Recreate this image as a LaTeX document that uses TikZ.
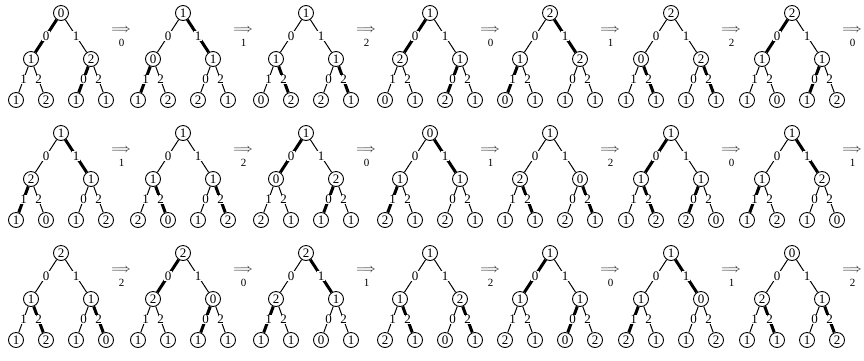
\documentclass[tikz,border=0pt]{standalone}
\usepackage{fontspec}
\setmainfont{Liberation Serif}
\usepackage{tikz}

\begin{document}
\begin{tikzpicture}[x=1pt,y=1pt,font=\fontsize{13}{15}\selectfont,
  sommet/.style={draw,circle,line width=0.9pt,minimum size=15pt,inner sep=0pt},
  etiq/.style={fill=white,inner sep=0.5pt},
  arete/.style 2 args={line width={1pt+2pt*(#1==#2)}},
  fleche/.style={inner sep=0pt},
  indice/.style={inner sep=0pt,font=\fontsize{11}{13}\selectfont}]
  \useasboundingbox (0,0) rectangle (864,-360);
  % arbres : n / x / y / racine / fils / feuilles / aretes grasses (9 = aucune) / indice
  \foreach \n/\x/\y/\r/\a/\b/\aa/\ab/\ba/\bb/\tr/\ta/\tb/\fl in {%
    1/61/-13/0/1/2/1/2/1/1/0/9/0/0,
    2/183/-13/1/0/1/1/2/2/1/1/1/9/1,
    3/306/-13/1/1/1/0/2/2/1/9/2/2/2,
    4/430/-13/1/2/1/0/1/2/1/0/9/0/0,
    5/550/-13/2/1/2/0/1/1/1/1/1/9/1,
    6/671/-13/2/0/2/1/1/1/1/9/2/2/2,
    7/792/-13/2/1/1/1/0/1/2/0/9/0/0,
    8/61/-133/1/2/1/1/0/1/2/1/1/9/1,
    9/183/-133/1/1/1/2/0/1/2/9/2/2/2,
    10/306/-133/1/0/2/2/1/1/1/0/9/0/0,
    11/430/-133/0/1/1/2/1/2/1/1/1/9/1,
    12/550/-133/1/2/0/1/1/2/1/9/2/2/2,
    13/671/-133/1/1/1/1/2/2/0/0/2/0/0,
    14/792/-133/1/1/2/1/2/1/0/1/1/9/1,
    15/61/-253/2/1/1/1/2/1/0/9/2/2/2,
    16/183/-253/2/2/0/1/1/1/1/0/9/0/0,
    17/306/-253/2/2/1/1/1/0/1/1/1/9/1,
    18/430/-253/1/1/2/2/1/0/1/9/2/2/2,
    19/550/-253/1/1/1/2/1/0/2/0/9/0/0,
    20/671/-253/1/1/0/2/1/1/2/1/1/9/1,
    21/792/-253/0/2/1/1/1/1/2/9/2/2/2} {
    \node[sommet] (r-\n) at (\x,\y) {\r};
    \node[sommet] (a-\n) at (\x-30,\y-46) {\a};
    \node[sommet] (b-\n) at (\x+30,\y-46) {\b};
    \node[sommet] (aa-\n) at (\x-45,\y-87) {\aa};
    \node[sommet] (ab-\n) at (\x-15,\y-87) {\ab};
    \node[sommet] (ba-\n) at (\x+15,\y-87) {\ba};
    \node[sommet] (bb-\n) at (\x+45,\y-87) {\bb};
    \draw[arete={\tr}{0}] (r-\n) -- node[etiq] (ea-\n) {0} (a-\n);
    \draw[arete={\tr}{1}] (r-\n) -- node[etiq] (eb-\n) {1} (b-\n);
    \draw[arete={\ta}{1}] (a-\n) -- node[etiq] (eaa-\n) {1} (aa-\n);
    \draw[arete={\ta}{2}] (a-\n) -- node[etiq] (eab-\n) {2} (ab-\n);
    \draw[arete={\tb}{0}] (b-\n) -- node[etiq] (eba-\n) {0} (ba-\n);
    \draw[arete={\tb}{2}] (b-\n) -- node[etiq] (ebb-\n) {2} (bb-\n);
    % fleche vers l'arbre suivant
    \node[fleche] (f-\n) at (\x+60,\y-17.5) {$\Longrightarrow$};
    \node[indice,anchor=north] (i-\n) at (\x+60.5,\y-26) {\fl};
  }
\end{tikzpicture}
\end{document}
